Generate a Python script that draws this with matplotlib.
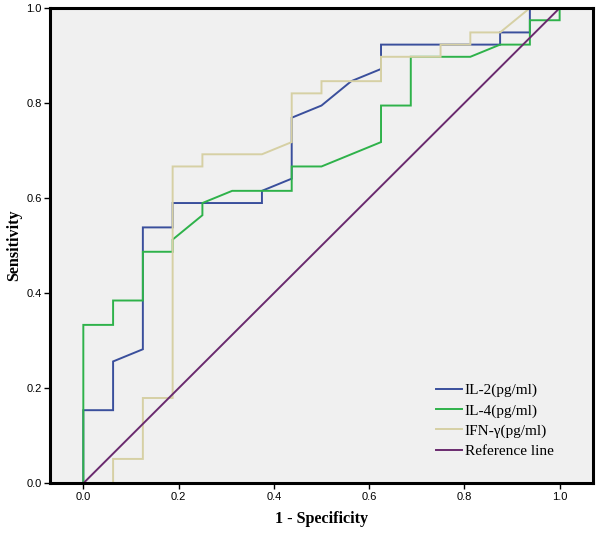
import matplotlib
matplotlib.use("Agg")
import matplotlib.pyplot as plt
import numpy as np

# ROC steps: 16 negatives, 39 positives
n_neg = 16
n_pos = 39

il2_fp = [0, 0, 1, 1, 2, 2, 3, 3, 6, 6, 7, 7, 8, 9, 10, 10, 14, 14, 15, 15, 16]
il2_tp = [0, 6, 6, 10, 11, 21, 21, 23, 23, 24, 25, 30, 31, 33, 34, 36, 36, 37, 37, 39, 39]

il4_fp = [0, 0, 1, 1, 2, 2, 3, 3, 4, 4, 5, 7, 7, 8, 10, 10, 11, 11, 13, 14, 15, 15, 16, 16]
il4_tp = [0, 13, 13, 15, 15, 19, 19, 20, 22, 23, 24, 24, 26, 26, 28, 31, 31, 35, 35, 36, 36, 38, 38, 39]

ifn_fp = [0, 1, 1, 2, 2, 3, 3, 4, 4, 6, 7, 7, 8, 8, 10, 10, 12, 12, 13, 13, 14, 15, 16]
ifn_tp = [0, 0, 2, 2, 7, 7, 26, 26, 27, 27, 28, 32, 32, 33, 33, 35, 35, 36, 36, 37, 37, 39, 39]

labels = ["IL-2(pg/ml)", "IL-4(pg/ml)", "IFN-\u03b3(pg/ml)", "Reference line"]
colors = ["#3a4f9c", "#2eb24a", "#d6d0a4", "#6a2a6e"]
ticks = [0.0, 0.2, 0.4, 0.6, 0.8, 1.0]

fig = plt.figure(figsize=(6, 5.37), dpi=100)
ax = fig.add_axes([0.0833, 0.1, 0.905, 0.885])
ax.set_facecolor("#f0f0f0")

curves = [(il2_fp, il2_tp), (il4_fp, il4_tp), (ifn_fp, ifn_tp)]
for (fp, tp), lab, col in zip(curves, labels[:3], colors[:3]):
    x = np.array(fp) / n_neg
    y = np.array(tp) / n_pos
    ax.plot(x, y, color=col, lw=1.4, label=lab, solid_joinstyle="miter")

ax.plot([0, 1], [0, 1], color=colors[3], lw=1.4, label=labels[3])

ax.set_xlim(-0.07, 1.07)
ax.set_ylim(0, 1)
ax.set_xticks(ticks)
ax.set_yticks(ticks)
ax.set_xticklabels([f"{t:.1f}" for t in ticks], fontsize=8, family="Liberation Sans")
ax.set_yticklabels([f"{t:.1f}" for t in ticks], fontsize=8, family="Liberation Sans")
ax.tick_params(direction="out", length=4, width=1, pad=2)

for s in ax.spines.values():
    s.set_linewidth(2.2)
    s.set_color("black")

ax.set_xlabel("1 - Specificity", family="Liberation Serif", fontweight="bold", fontsize=11.6, labelpad=7)
ax.set_ylabel("Sensitivity", family="Liberation Serif", fontweight="bold", fontsize=11.6, labelpad=3)

leg = ax.legend(loc="lower left", bbox_to_anchor=(0.696, 0.037), frameon=False,
                prop={"family": "Liberation Serif", "size": 11},
                handlelength=1.7, handletextpad=0.2, labelspacing=0.42, borderpad=0)

fig.savefig("out.png", dpi=100)
